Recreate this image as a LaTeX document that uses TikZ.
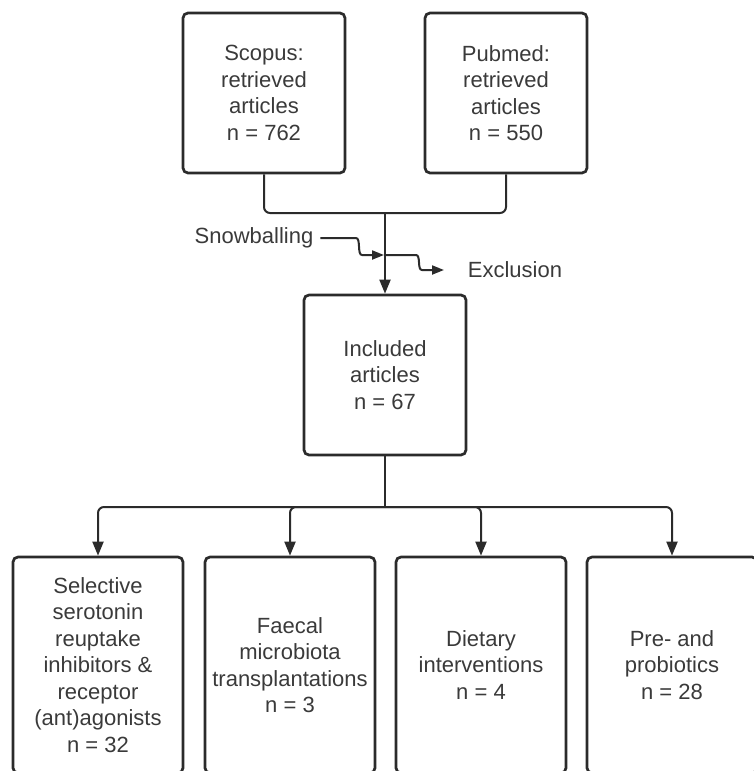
\documentclass[tikz,border=0pt]{standalone}
\usepackage{fontspec}
\setmainfont{Liberation Sans}
\usetikzlibrary{arrows.meta, calc, positioning}
\definecolor{rahmen}{HTML}{2B2B2B}
\definecolor{schrift}{HTML}{3A3A3A}

\begin{document}
\begin{tikzpicture}[x=0.5pt, y=-0.5pt, >={Triangle[length=7pt, width=5.5pt]},
    every node/.style={font=\fontsize{11}{13.25}\selectfont, text=schrift, align=center},
    box/.style={draw=rahmen, line width=1.35pt, rounded corners=2.5pt,
                minimum width=81pt, minimum height=80pt, inner sep=0pt},
    groupbox/.style={box, minimum width=85pt, minimum height=108pt},
    conn/.style={draw=rahmen, line width=1pt, rounded corners=3pt},
    smallarr/.style={-{Triangle[length=6pt, width=4.5pt]}}]
  \useasboundingbox (0,0) rectangle (754,771);
  \clip (0,0) rectangle (754,771);
  % search
  \node[box] (scopus) at (264,93) {Scopus:\\retrieved\\articles\\n = 762};
  \node[box] (pubmed) at (506,93) {Pubmed:\\retrieved\\articles\\n = 550};
  \coordinate (merge) at (385,213);
  \draw[conn] (scopus.south) |- (merge) -| (pubmed.south);
  % screening
  \node[box] (incl) at (385,375) {Included\\articles\\n = 67};
  \draw[conn, ->] (merge) -- (incl.north);
  \node (snow) at (254,238) {Snowballing};
  \node (excl) at (515,270) {Exclusion};
  \coordinate (snowin) at (384,255);
  \coordinate (exclout) at (444,270);
  \draw[conn, smallarr] (snow.east) -- (350,238) .. controls (361,238) and (357,255) .. (368,255) -- (snowin);
  \draw[conn, smallarr] (385,255) -- (410,255) .. controls (421,255) and (417,270) .. (428,270) -- (exclout);
  % groups
  \node[groupbox] (ssri) at (98,665) {Selective\\serotonin\\reuptake\\inhibitors \&\\receptor\\(ant)agonists\\n = 32};
  \node[groupbox] (fmt) at (290,665) {Faecal\\microbiota\\transplantations\\n = 3};
  \node[groupbox] (diet) at (481,665) {Dietary\\interventions\\n = 4};
  \node[groupbox] (prepro) at (672,665) {Pre- and\\probiotics\\n = 28};
  \coordinate (split) at (385,507);
  \draw[conn] (incl.south) -- (split);
  \foreach \g in {ssri, fmt, diet, prepro}
    \draw[conn, ->] (split) -| (\g.north);
\end{tikzpicture}
\end{document}
